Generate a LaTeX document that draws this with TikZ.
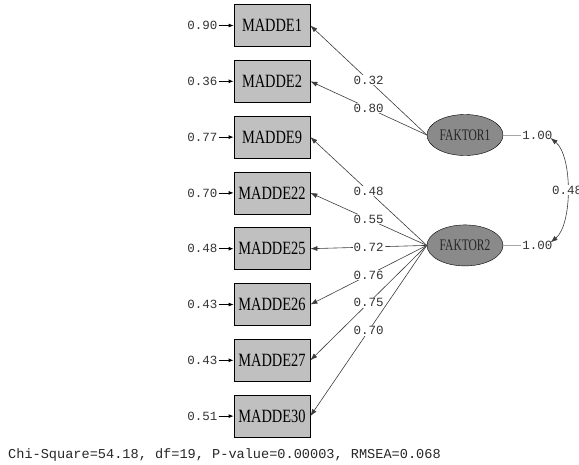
\documentclass[tikz,border=0pt]{standalone}
\usepackage{fontspec}
\setmainfont{Liberation Serif}
\setmonofont{Liberation Mono}
\usepackage{graphicx}
\usepackage{tikz}
\usetikzlibrary{arrows.meta, positioning, shapes.geometric}

\definecolor{itemgray}{RGB}{192,192,192}
\definecolor{factgray}{RGB}{138,138,138}
\definecolor{linegray}{RGB}{60,60,60}
\newcommand{\tall}[2][1.3]{\scalebox{1}[#1]{#2}}

\begin{document}
\begin{tikzpicture}[
  x=1pt, y=-1pt,
  item/.style={draw, thick, fill=itemgray, minimum width=76pt,
               minimum height=42pt, inner sep=0pt,
               font=\fontsize{14.4}{15}\selectfont},
  fact/.style={draw, ellipse, fill=factgray, minimum width=76pt,
               minimum height=41pt, inner sep=0pt, text=black!85,
               font=\fontsize{11.5}{12}\selectfont},
  num/.style={font=\ttfamily\fontsize{12.5}{13}\selectfont,
              text=black!80, inner sep=1pt},
  load/.style={num, fill=white},
  arr/.style={-{Latex[length=7pt, width=5pt]}, linegray, semithick},
  err/.style={-{Latex[length=5pt, width=4pt]}, thick},
]
  \useasboundingbox (0,0) rectangle (579,464);

  % Items
  \node[item] (m1) at (272,25.5) {\tall{MADDE1}};
  \node[item, below=13pt of m1] (m2)  {\tall{MADDE2}};
  \node[item, below=13pt of m2] (m9)  {\tall{MADDE9}};
  \node[item, below=13pt of m9] (m22) {\tall{MADDE22}};
  \node[item, below=13pt of m22] (m25) {\tall{MADDE25}};
  \node[item, below=13pt of m25] (m26) {\tall{MADDE26}};
  \node[item, below=13pt of m26] (m27) {\tall{MADDE27}};
  \node[item, below=13pt of m27] (m30) {\tall{MADDE30}};

  % Error variances
  \node[num, left=15pt of m1]  (e1)  {0.90};
  \node[num, left=15pt of m2]  (e2)  {0.36};
  \node[num, left=15pt of m9]  (e9)  {0.77};
  \node[num, left=15pt of m22] (e22) {0.70};
  \node[num, left=15pt of m25] (e25) {0.48};
  \node[num, left=15pt of m26] (e26) {0.43};
  \node[num, left=15pt of m27] (e27) {0.43};
  \node[num, left=15pt of m30] (e30) {0.51};

  \draw[err] (e1)  -- (m1);
  \draw[err] (e2)  -- (m2);
  \draw[err] (e9)  -- (m9);
  \draw[err] (e22) -- (m22);
  \draw[err] (e25) -- (m25);
  \draw[err] (e26) -- (m26);
  \draw[err] (e27) -- (m27);
  \draw[err] (e30) -- (m30);

  % Factors
  \node[fact] (f1) at (465,135) {\tall[1.4]{FAKTOR1}};
  \node[fact, below=69pt of f1] (f2) {\tall[1.4]{FAKTOR2}};

  % Loadings
  \draw[arr] (f1.west) -- node[load] {0.32} (m1.east);
  \draw[arr] (f1.west) -- node[load] {0.80} (m2.east);
  \draw[arr] (f2.west) -- node[load] {0.48} (m9.east);
  \draw[arr] (f2.west) -- node[load] {0.55} (m22.east);
  \draw[arr] (f2.west) -- node[load] {0.72} (m25.east);
  \draw[arr] (f2.west) -- node[load] {0.76} (m26.east);
  \draw[arr] (f2.west) -- node[load] {0.75} (m27.east);
  \draw[arr] (f2.west) -- node[load] {0.70} (m30.east);

  % Factor variances and covariance
  \node[num, right=18pt of f1] (v1) {1.00};
  \node[num, right=18pt of f2] (v2) {1.00};
  \draw[gray!70] (f1) -- (v1);
  \draw[gray!70] (f2) -- (v2);
  \draw[{Latex[length=7pt, width=5pt]}-{Latex[length=7pt, width=5pt]},
        linegray, semithick]
    ([xshift=-3pt,yshift=-3pt]v1.east) .. controls +(22,18) and +(22,-18)
    .. node[load] {0.48} ([xshift=-3pt,yshift=3pt]v2.east);

  % Fit statistics
  \node[num, anchor=west, text=black!85,
        font=\ttfamily\fontsize{13.6}{14}\selectfont] (fit) at (7,455)
    {Chi-Square=54.18, df=19, P-value=0.00003, RMSEA=0.068};
\end{tikzpicture}
\end{document}
